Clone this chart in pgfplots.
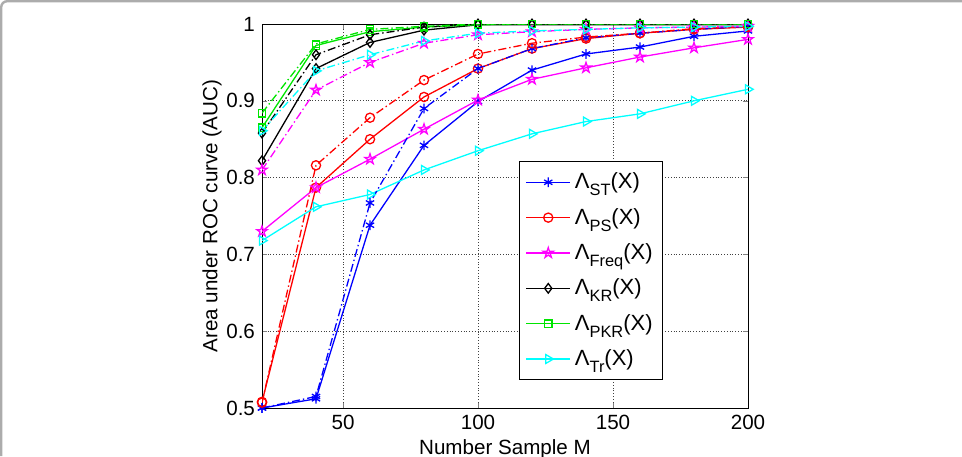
\documentclass[border=0pt]{standalone}
\usepackage{fontspec}
\setmainfont{Liberation Sans}
\usepackage{pgfplots}
\pgfplotsset{compat=1.18}
\definecolor{mblue}{rgb}{0,0,1}
\definecolor{mred}{rgb}{1,0,0}
\definecolor{mmag}{rgb}{1,0,1}
\definecolor{mgreen}{rgb}{0,0.9,0}
\definecolor{mcyan}{rgb}{0,1,1}
\pgfdeclareplotmark{pentagram}{%
 \pgfpathmoveto{\pgfpointpolar{90}{\pgfplotmarksize}}%
 \pgfpathlineto{\pgfpointpolar{126}{0.382\pgfplotmarksize}}%
 \pgfpathlineto{\pgfpointpolar{162}{\pgfplotmarksize}}%
 \pgfpathlineto{\pgfpointpolar{198}{0.382\pgfplotmarksize}}%
 \pgfpathlineto{\pgfpointpolar{234}{\pgfplotmarksize}}%
 \pgfpathlineto{\pgfpointpolar{270}{0.382\pgfplotmarksize}}%
 \pgfpathlineto{\pgfpointpolar{306}{\pgfplotmarksize}}%
 \pgfpathlineto{\pgfpointpolar{342}{0.382\pgfplotmarksize}}%
 \pgfpathlineto{\pgfpointpolar{18}{\pgfplotmarksize}}%
 \pgfpathlineto{\pgfpointpolar{54}{0.382\pgfplotmarksize}}%
 \pgfpathclose\pgfusepathqstroke}
\newcommand{\sub}[1]{\raisebox{-3.5pt}{\fontsize{8.2}{9}\selectfont #1}}
\tikzset{dashdot/.style={dash pattern=on 4pt off 1.5pt on 0.7pt off 1.5pt}}
\begin{document}
\begin{tikzpicture}[x=1pt,y=1pt]
\useasboundingbox (0,0) rectangle (481,228);
\draw[gray!65, line width=1.2pt, rounded corners=3pt] (0.6,0) -- (0.6,227.4) -- (481,227.4);
\begin{axis}[at={(131pt,24pt)}, anchor=south west, scale only axis,
 width=243pt, height=192pt,
 xmin=20, xmax=200, ymin=0.5, ymax=1,
 xtick={50,100,150,200}, ytick={0.5,0.6,0.7,0.8,0.9,1},
 yticklabels={0.5,0.6,0.7,0.8,0.9,1},
 grid=major, major grid style={densely dotted, black!75, line width=0.4pt},
 tick align=inside, major tick length=2.5pt,
 axis line style={line width=0.5pt},
 /pgf/number format/assume math mode=true,
 tick label style={font=\fontsize{10.3}{12}\selectfont},
 label style={font=\fontsize{10.3}{12}\selectfont},
 xlabel={Number Sample M},
 ylabel={Area under ROC curve (AUC)},
 xlabel style={at={(axis description cs:0.5,-0.107)}, anchor=center},
 ylabel style={at={(axis description cs:-0.103,0.5)}, anchor=center},
 legend style={at={(0.529,0.073)}, anchor=south west, draw=black, line width=0.5pt,
   font=\fontsize{11}{13}\selectfont, row sep=4.2pt, inner xsep=3pt, inner ysep=3.5pt},
 legend cell align=left,
 legend image code/.code={\draw[mark repeat=2,mark phase=2,#1] plot coordinates {(0pt,0pt) (11pt,0pt) (22pt,0pt)};},
 every axis plot/.append style={line width=0.65pt},
]
% solid series
\addplot[mblue, mark=asterisk, mark size=2.4pt, mark options={solid}] coordinates {(20,0.500) (40,0.512) (60,0.738) (80,0.842) (100,0.899) (120,0.940) (140,0.961) (160,0.970) (180,0.984) (200,0.991)};
\addlegendentry{Λ\sub{ST}(X)}
\addplot[mred, mark=o, mark size=2.3pt, mark options={solid}] coordinates {(20,0.508) (40,0.787) (60,0.850) (80,0.905) (100,0.942) (120,0.968) (140,0.981) (160,0.988) (180,0.993) (200,0.996)};
\addlegendentry{Λ\sub{PS}(X)}
\addplot[mmag, mark=pentagram, mark size=2.7pt, mark options={solid}] coordinates {(20,0.730) (40,0.787) (60,0.824) (80,0.863) (100,0.901) (120,0.928) (140,0.943) (160,0.957) (180,0.969) (200,0.980)};
\addlegendentry{Λ\sub{Freq}(X)}
\addplot[black, mark=diamond, mark size=2.4pt, mark options={solid}] coordinates {(20,0.822) (40,0.942) (60,0.976) (80,0.992) (100,0.999) (120,0.999) (140,0.999) (160,0.999) (180,0.999) (200,0.999)};
\addlegendentry{Λ\sub{KR}(X)}
\addplot[mgreen, mark=square, mark size=1.9pt, mark options={solid}] coordinates {(20,0.865) (40,0.972) (60,0.990) (80,0.996) (100,0.999) (120,1.0) (140,1.0) (160,1.0) (180,1.0) (200,1.0)};
\addlegendentry{Λ\sub{PKR}(X)}
\addplot[mcyan, mark=triangle, mark size=2.6pt, mark options={solid, rotate=-90}] coordinates {(20,0.718) (40,0.762) (60,0.778) (80,0.810) (100,0.835) (120,0.857) (140,0.873) (160,0.883) (180,0.900) (200,0.915)};
\addlegendentry{Λ\sub{Tr}(X)}
% dash-dot series
\addplot[mblue, dashdot, mark=asterisk, mark size=2.4pt, mark options={solid}, forget plot] coordinates {(20,0.500) (40,0.515) (60,0.767) (80,0.890) (100,0.942) (120,0.968) (140,0.982) (160,0.988) (180,0.993) (200,0.997)};
\addplot[mred, dashdot, mark=o, mark size=2.3pt, mark options={solid}, forget plot] coordinates {(20,0.507) (40,0.816) (60,0.878) (80,0.927) (100,0.961) (120,0.975) (140,0.983) (160,0.988) (180,0.994) (200,0.997)};
\addplot[mmag, dashdot, mark=pentagram, mark size=2.7pt, mark options={solid}, forget plot] coordinates {(20,0.810) (40,0.914) (60,0.950) (80,0.975) (100,0.986) (120,0.990) (140,0.993) (160,0.995) (180,0.996) (200,0.997)};
\addplot[black, dashdot, mark=diamond, mark size=2.4pt, mark options={solid}, forget plot] coordinates {(20,0.858) (40,0.960) (60,0.986) (80,0.996) (100,1.0) (120,1.0) (140,1.0) (160,1.0) (180,1.0) (200,1.0)};
\addplot[mgreen, dashdot, mark=square, mark size=1.9pt, mark options={solid}, forget plot] coordinates {(20,0.884) (40,0.974) (60,0.993) (80,0.997) (100,1.0) (120,1.0) (140,1.0) (160,1.0) (180,1.0) (200,1.0)};
\addplot[mcyan, dashdot, mark=triangle, mark size=2.6pt, mark options={solid, rotate=-90}, forget plot] coordinates {(20,0.861) (40,0.939) (60,0.960) (80,0.978) (100,0.988) (120,0.991) (140,0.993) (160,0.995) (180,0.996) (200,0.997)};
\end{axis}
\end{tikzpicture}
\end{document}
